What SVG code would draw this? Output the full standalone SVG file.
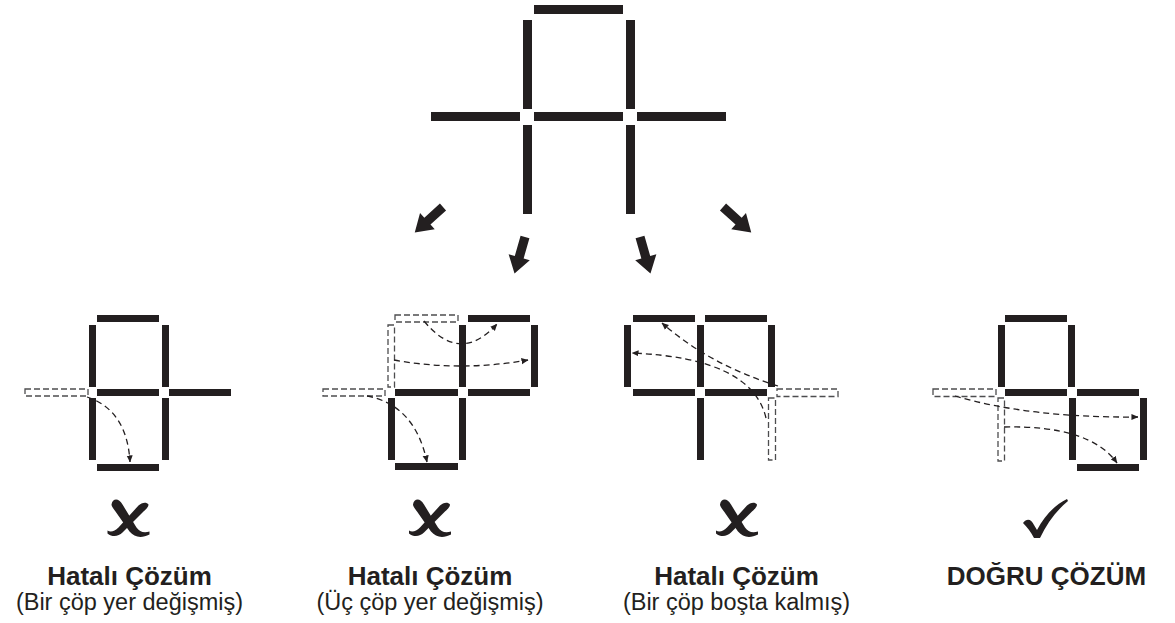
<svg xmlns="http://www.w3.org/2000/svg" width="1175" height="623" viewBox="0 0 1175 623">
<style>
.s{fill:#231f20}
.g{fill:none;stroke:#4d4d4f;stroke-width:1.3;stroke-dasharray:6 3}
.mv{fill:none;stroke:#231f20;stroke-width:1.3;stroke-dasharray:6 4;marker-end:url(#ah)}
.t{font-family:"Liberation Sans",Arial,Helvetica,sans-serif;font-weight:bold;font-size:26px;fill:#231f20;text-anchor:middle}
.st{font-family:"Liberation Sans",Arial,Helvetica,sans-serif;font-size:23.5px;fill:#231f20;text-anchor:middle}
</style>
<defs>
<marker id="ah" viewBox="0 0 8 8" refX="7.5" refY="4" markerWidth="7" markerHeight="7" markerUnits="userSpaceOnUse" orient="auto"><path d="M0,0.5 L8,4 L0,7.5 z" fill="#231f20"/></marker>
<path id="bigarrow" d="M0,-4.6 L21,-4.6 L21,-11 L38,0 L21,11 L21,4.6 L0,4.6 Z" fill="#231f20"/>
<g id="xmark" fill="#231f20">
<path d="M -17,-13 C -16,-19 -10,-20 -6,-13 L 8,10 C 11,14 15,16 21,14 L 21,17 C 13,21 6,20 1,14 L -13,-6 C -15,-9 -17,-11 -17,-13 Z"/>
<path d="M 20,-13 C 18,-16 13,-15 10,-12 L -10,10 C -14,14 -18,15 -21,13 L -21,16 C -16,20 -10,19 -6,15 L 14,-5 C 17,-8 20,-10 20,-13 Z"/>
</g>
</defs>

<g id="original">
<rect class="s" x="534" y="5" width="89" height="9"/>
<rect class="s" x="523" y="20" width="9" height="89"/>
<rect class="s" x="626" y="20" width="9" height="89"/>
<rect class="s" x="431" y="112" width="89" height="9"/>
<rect class="s" x="534" y="112" width="89" height="9"/>
<rect class="s" x="637" y="112" width="89" height="9"/>
<rect class="s" x="523" y="125" width="9" height="89"/>
<rect class="s" x="626" y="125" width="9" height="89"/>
</g>

<g id="arrows">
<use href="#bigarrow" transform="translate(443,207) rotate(138)"/>
<use href="#bigarrow" transform="translate(525,237) rotate(106)"/>
<use href="#bigarrow" transform="translate(640,237) rotate(74)"/>
<use href="#bigarrow" transform="translate(723,207) rotate(42)"/>
</g>

<g id="panel1">
<rect class="s" x="97" y="315" width="62" height="7"/>
<rect class="s" x="89" y="325" width="7" height="62"/>
<rect class="s" x="162" y="325" width="7" height="62"/>
<rect class="s" x="97" y="389" width="62" height="7"/>
<rect class="s" x="169" y="389" width="62" height="7"/>
<rect class="s" x="89" y="398" width="7" height="62"/>
<rect class="s" x="162" y="398" width="7" height="62"/>
<rect class="s" x="97" y="464" width="62" height="7"/>
<rect class="g" x="25" y="389" width="63" height="7"/>
<use href="#xmark" transform="translate(128.5,517.5)"/>
<text class="t" x="129.5" y="585">Hatalı Çözüm</text>
<text class="st" x="129.5" y="610">(Bir çöp yer değişmiş)</text>
</g>

<g id="panel2">
<rect class="s" x="468" y="315" width="62" height="7"/>
<rect class="s" x="459" y="325" width="7" height="62"/>
<rect class="s" x="531" y="325" width="7" height="62"/>
<rect class="s" x="395" y="389" width="63" height="7"/>
<rect class="s" x="468" y="389" width="62" height="7"/>
<rect class="s" x="388" y="398" width="7" height="62"/>
<rect class="s" x="459" y="398" width="7" height="62"/>
<rect class="s" x="395" y="463" width="63" height="7"/>
<rect class="g" x="395" y="315" width="63" height="7"/>
<rect class="g" x="388" y="325" width="6.5" height="62"/>
<rect class="g" x="323" y="389" width="62" height="7"/>
<use href="#xmark" transform="translate(430,517.5)"/>
<text class="t" x="430" y="585">Hatalı Çözüm</text>
<text class="st" x="430" y="610">(Üç çöp yer değişmiş)</text>
</g>

<g id="panel3">
<rect class="s" x="633" y="315" width="62" height="7"/>
<rect class="s" x="705" y="315" width="62" height="7"/>
<rect class="s" x="624" y="325" width="7" height="62"/>
<rect class="s" x="697" y="325" width="7" height="62"/>
<rect class="s" x="768" y="325" width="7" height="62"/>
<rect class="s" x="633" y="389" width="62" height="7"/>
<rect class="s" x="705" y="389" width="62" height="7"/>
<rect class="s" x="697" y="398" width="7" height="62"/>
<rect class="g" x="777" y="389" width="61" height="7.5"/>
<rect class="g" x="768.5" y="398" width="7" height="62"/>
<use href="#xmark" transform="translate(737,517.5)"/>
<text class="t" x="736.5" y="585">Hatalı Çözüm</text>
<text class="st" x="736.5" y="610">(Bir çöp boşta kalmış)</text>
</g>

<g id="panel4">
<rect class="s" x="1005" y="315" width="62" height="7"/>
<rect class="s" x="998" y="325" width="7" height="62"/>
<rect class="s" x="1068" y="325" width="7" height="62"/>
<rect class="s" x="1005" y="389" width="62" height="7"/>
<rect class="s" x="1077" y="389" width="62" height="7"/>
<rect class="s" x="1069" y="398" width="7" height="62"/>
<rect class="s" x="1140" y="398" width="7" height="62"/>
<rect class="s" x="1077" y="464" width="62" height="7"/>
<rect class="g" x="933" y="389" width="63" height="7.5"/>
<rect class="g" x="998" y="398" width="6.5" height="63"/>
<path fill="#231f20" d="M1023,523 C1027,518 1031,519 1034,525 L1037,530 C1045,515 1055,505 1067,499 L1068,501 C1057,510 1047,523 1040,538 L1034,538 C1031,532 1027,527 1023,523 Z"/>
<text class="t" x="1046.5" y="585">DOĞRU ÇÖZÜM</text>
</g>

<g id="connectors">
<path class="mv" d="M87,397 Q127,410 130,462"/>
<path class="mv" d="M424,321 Q460,365 497,324"/>
<path class="mv" d="M394,360 Q460,372 528,360"/>
<path class="mv" d="M367,396 Q415,405 427,462"/>
<path class="mv" d="M778,386 Q710,365 662,323"/>
<path class="mv" d="M766,418 Q752,358 632,353"/>
<path class="mv" d="M955,396 Q1030,418 1138,417"/>
<path class="mv" d="M1004,427 Q1090,425 1117,463"/>
</g>
</svg>
